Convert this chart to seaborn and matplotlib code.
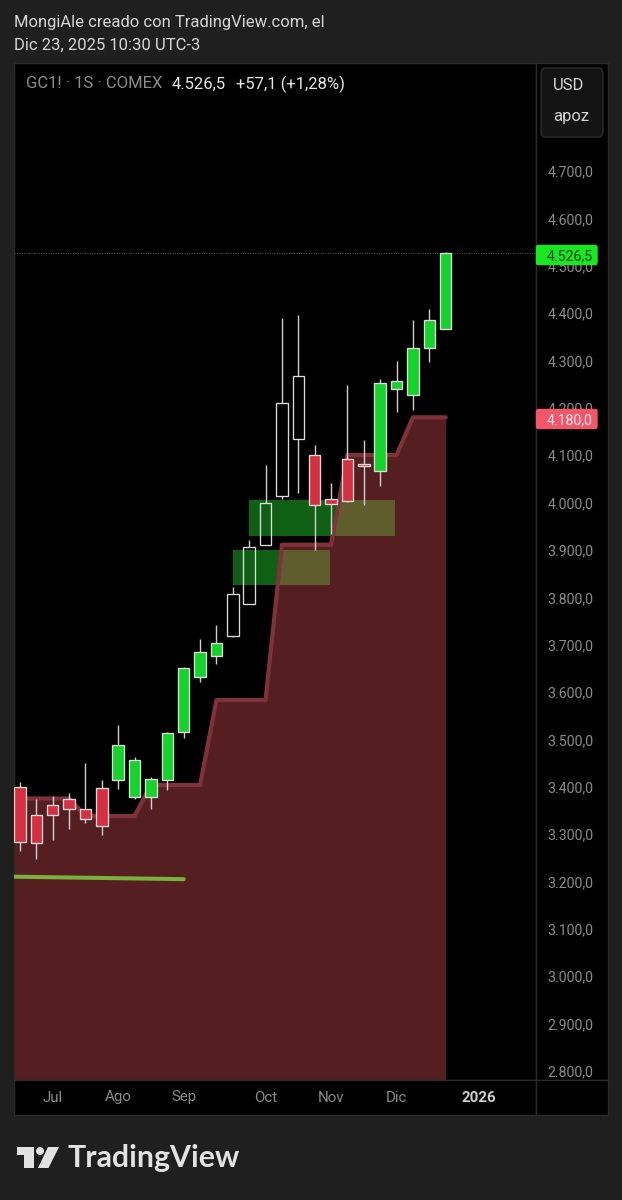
import matplotlib
matplotlib.use("Agg")
import matplotlib.pyplot as plt
from matplotlib.patches import Circle, FancyBboxPatch, Polygon, Rectangle
import numpy as np
import pandas as pd
import seaborn as sns

# weekly candles
opens = [3398.9, 3339.8, 3362.2, 3374.2, 3352.5, 3396.8, 3413.7, 3379.1, 3379.1, 3413.7, 3515.0, 3631.8, 3676.7,
         3718.3, 3785.3, 3910.4, 4014.5, 4134.9, 4099.8, 4006.9, 4091.4, 4080.8, 4066.0, 4239.1, 4226.5, 4327.0, 4366.4]
closes = [3284.1, 3280.7, 3340.4, 3353.7, 3331.4, 3317.9, 3488.9, 3455.9, 3415.8, 3513.6, 3650.8, 3683.9, 3702.9,
          3806.4, 3905.6, 3998.5, 4210.2, 4266.6, 3994.3, 3997.6, 4004.0, 4076.6, 4251.8, 4256.0, 4325.7, 4384.8, 4526.5]
highs = [3410.7, 3374.2, 3379.9, 3386.3, 3449.6, 3414.3, 3530.4, 3462.9, 3421.3, 3515.0, 3652.9, 3712.0, 3741.6,
         3821.8, 3921.0, 4078.7, 4389.7, 4395.4, 4121.6, 4041.3, 4247.6, 4132.1, 4260.9, 4298.3, 4385.4, 4408.0, 4529.0]
lows = [3265.1, 3247.6, 3287.7, 3311.5, 3322.9, 3298.2, 3396.0, 3373.6, 3352.5, 3393.9, 3503.6, 3620.6, 3659.2,
        3716.9, 3785.0, 3910.0, 4008.2, 4019.6, 3899.9, 3933.7, 4001.9, 3994.9, 4035.0, 4191.9, 4195.4, 4296.8, 4366.0]
# g = green, r = red, w = hollow white
kinds = list("rrrrrrggggggg") + list("wwwww") + list("rrrr") + list("ggggg")

# stepped level with the red area under it (first point sits left of the view)
level_x = list(range(-1, 27))
level = [3375.3] * 5 + [3338.3] * 4 + [3403.8] * 4 + [3583.2] * 4 + [3911.1] * 4 + [4100.4] * 4 + [4180.0] * 3

trend_x = [-1, 10]
trend = [3210.5, 3205.0]

# supply/demand boxes: left, right, bottom, top
zone_left = [14, 13]
zone_right = [22.93, 18.96]
zone_low = [3929.4, 3826.0]
zone_high = [4005.4, 3900.5]

price_ticks = list(range(2800, 4800, 100))
month_pos = [2, 6, 10, 15, 19, 23, 28]
month_labels = ["Jul", "Ago", "Sep", "Oct", "Nov", "Dic", "2026"]

W, H = 622, 1200
BG = "#1f1f1f"
EDGE = "#2a2a2a"

sns.set_theme(style="dark")
plt.rcParams["font.family"] = ["Roboto", "DejaVu Sans"]


def fig_axes(fig, x0, y0, x1, y1):
    # axes from pixel box, y measured from the top
    ax = fig.add_axes([x0 / W, 1 - y1 / H, (x1 - x0) / W, (y1 - y0) / H])
    ax.set_facecolor("black")
    for s in ax.spines.values():
        s.set_color(EDGE)
        s.set_linewidth(1)
    return ax


fig = plt.figure(figsize=(W / 100, H / 100), dpi=100, facecolor=BG)
ax = fig_axes(fig, 14, 63, 535.5, 1080)
xlim = (-0.366, 31.49)
ylim = (2781, 4928)
ax.set_xlim(xlim)
ax.set_ylim(ylim)
ax.set_xticks([])
ax.set_yticks([])
ax.set_xlabel("")
ax.set_ylabel("")

for x0, x1, y0, y1 in zip(zone_left, zone_right, zone_low, zone_high):
    ax.add_patch(Rectangle((x0, y0), x1 - x0, y1 - y0, facecolor="#0f6014", edgecolor="none", zorder=1))

ax.fill_between(level_x, level, ylim[0], color="#f55961", alpha=0.35, linewidth=0, zorder=2)

level_df = pd.DataFrame({"x": level_x, "y": level})
sns.lineplot(data=level_df, x="x", y="y", ax=ax, color="#80323a", linewidth=3.0, errorbar=None, zorder=3)
ax.lines[-1].set_solid_joinstyle("round")
trend_df = pd.DataFrame({"x": trend_x, "y": trend})
sns.lineplot(data=trend_df, x="x", y="y", ax=ax, color="#7ab03c", linewidth=2.9, errorbar=None, zorder=3)
ax.lines[-1].set_solid_capstyle("round")
ax.set_xlim(xlim)
ax.set_ylim(ylim)
ax.set_xlabel("")
ax.set_ylabel("")

ax.axhline(closes[-1], color="#5a5a5a", linewidth=0.7, linestyle=(0, (1, 1.5)), zorder=1)

# candles
fills = {"r": "#d82e41", "g": "#14d32a", "w": "none"}
idx = np.arange(len(opens))
tops = np.maximum(opens, closes)
bottoms = np.minimum(opens, closes)
ax.vlines(idx, tops, highs, color="#cfcfcf", linewidth=1.0, zorder=4)
ax.vlines(idx, lows, bottoms, color="#cfcfcf", linewidth=1.0, zorder=4)
for i, k in enumerate(kinds):
    ax.bar(i, tops[i] - bottoms[i], bottom=bottoms[i], width=0.7, facecolor=fills[k],
           edgecolor="#dcdcdc", linewidth=0.95, zorder=5)

# price scale
side = fig_axes(fig, 535.5, 63, 608, 1080)
side.set_xlim(0, 1)
side.set_ylim(ylim)
side.set_xticks([])
side.set_yticks(price_ticks)
side.set_yticklabels([f"{v:,.1f}".replace(",", "#").replace(".", ",").replace("#", ".") for v in price_ticks],
                     ha="center", color="#8b8b8b", fontsize=10.2)
side.tick_params(axis="y", length=0, pad=-25.2)


def price_tag(price, color, txt_color):
    y = 255 if price > 4400 else 419
    side_box = FancyBboxPatch((536.5 / W, 1 - (y + 9.5) / H), 60.5 / W, 19 / H, transform=fig.transFigure,
                              boxstyle="round,pad=0,rounding_size=0.002", facecolor=color, edgecolor=color,
                              linewidth=1, zorder=6, clip_on=False)
    side.add_patch(side_box)
    side.text(570 / W, 1 - y / H, f"{price:,.1f}".replace(",", "#").replace(".", ",").replace("#", "."),
              transform=fig.transFigure, ha="center", va="center_baseline", color=txt_color, fontsize=10.2, zorder=7)


price_tag(closes[-1], "#17e81f", "#0e3d10")
price_tag(level[-1], "#f2566a", "#fde8ea")

# USD button
side.add_patch(FancyBboxPatch((541 / W, 1 - 137 / H), 62 / W, 69 / H, transform=fig.transFigure,
                              boxstyle="round,pad=0,rounding_size=0.006", facecolor="#141414", edgecolor="#2c2c2c",
                              linewidth=1, zorder=6, clip_on=False))
side.text(569 / W, 1 - 85 / H, "USD", transform=fig.transFigure, ha="center", va="center", color="#d4d4d4",
          fontsize=12, zorder=7)
side.text(571.5 / W, 1 - 117 / H, "apoz", transform=fig.transFigure, ha="center", va="center", color="#d4d4d4",
          fontsize=12, zorder=7)

# time scale
strip = fig_axes(fig, 14, 1080, 535.5, 1115)
strip.set_xlim(xlim)
strip.set_yticks([])
strip.xaxis.tick_top()
strip.set_xticks(month_pos)
strip.set_xticklabels(month_labels, color="#8b8b8b", fontsize=10.8, va="center")
strip.tick_params(axis="x", length=0, pad=-12.6)
strip.get_xticklabels()[-1].set_color("#cfcfcf")
strip.get_xticklabels()[-1].set_fontweight("bold")
corner = fig_axes(fig, 535.5, 1080, 608, 1115)
corner.set_xticks([])
corner.set_yticks([])

# header
fig.text(14 / W, 1 - 22 / H, "MongiAle creado con TradingView.com, el", color="#d6d6d6", fontsize=11.95, va="center")
fig.text(14 / W, 1 - 45 / H, "Dic 23, 2025 10:30 UTC-3", color="#d6d6d6", fontsize=11.95, va="center")
fig.text(25.5 / W, 1 - 84 / H, "GC1! · 1S · COMEX", color="#8b8b8b", fontsize=12, va="center")
fig.text(172 / W, 1 - 84 / H, "4.526,5", color="#e6e6e6", fontsize=12, va="center")
fig.text(236 / W, 1 - 84 / H, "+57,1 (+1,28%)", color="#e6e6e6", fontsize=12, va="center")

# logo
LOGO = "#e2e2e2"


def px(pts):
    return [(x / W, 1 - y / H) for x, y in pts]


fig.patches.append(Polygon(px([(17, 1147), (34, 1147), (34, 1168), (24, 1168), (24, 1155), (17, 1155)]),
                           transform=fig.transFigure, facecolor=LOGO, edgecolor="none"))
fig.patches.append(Polygon(px([(48, 1147), (59, 1147), (48.5, 1168), (38, 1168)]),
                           transform=fig.transFigure, facecolor=LOGO, edgecolor="none"))
logo_ax = fig.add_axes([0, 0, 1, 1], facecolor="none")
logo_ax.set_xlim(0, W)
logo_ax.set_ylim(H, 0)
logo_ax.axis("off")
logo_ax.add_patch(Circle((40, 1151), 4, facecolor=LOGO, edgecolor="none"))
logo_ax.text(68, 1158.5, "TradingView", color=LOGO, fontsize=21.8, fontweight="bold", family="Lato",
             va="center", ha="left")

fig.savefig("out.png", dpi=100, facecolor=BG)
